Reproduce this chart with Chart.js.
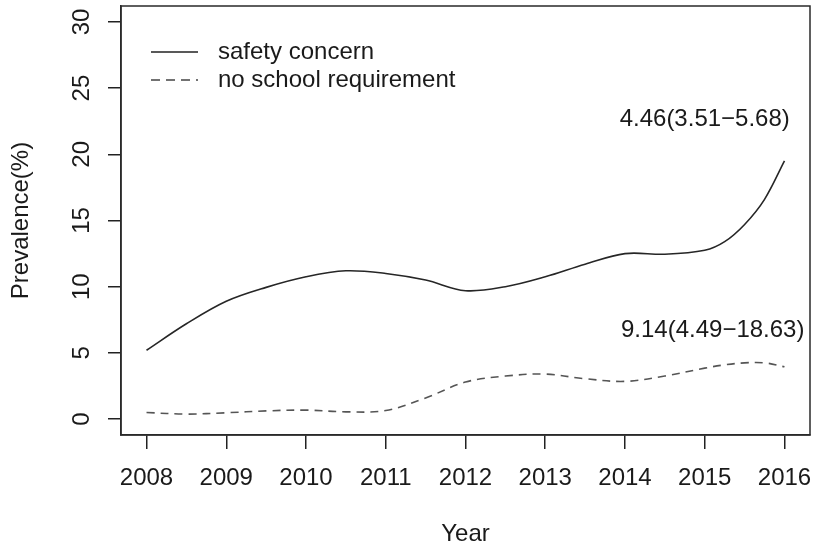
<!DOCTYPE html>
<html>
<head>
<meta charset="utf-8">
<script src="https://cdn.jsdelivr.net/npm/chart.js@4/dist/chart.umd.min.js"></script>
<style>
  html, body { margin: 0; padding: 0; background: #fff; }
  #wrap { width: 815px; height: 552px; position: relative; }
</style>
</head>
<body>
<div id="wrap"><canvas id="trendChart"></canvas></div>
<script>
// smoothed prevalence curves
const years = [2008, 2008.5, 2009, 2009.5, 2010, 2010.5, 2011, 2011.5, 2012, 2012.5, 2013, 2013.5, 2014, 2014.5, 2015, 2015.25, 2015.5, 2015.75, 2016];
const safetyConcern = [5.2, 7.2, 8.9, 9.95, 10.75, 11.2, 11.0, 10.5, 9.7, 10.0, 10.75, 11.7, 12.5, 12.45, 12.75, 13.4, 14.7, 16.6, 19.5];
const noSchoolReq = [0.5, 0.38, 0.48, 0.62, 0.68, 0.55, 0.65, 1.6, 2.8, 3.25, 3.4, 3.05, 2.85, 3.25, 3.85, 4.1, 4.25, 4.25, 3.95];

const seriesNames = ['safety concern', 'no school requirement'];
const xTicks = [2008, 2009, 2010, 2011, 2012, 2013, 2014, 2015, 2016];
const yTicks = [0, 5, 10, 15, 20, 25, 30];
const annotations = ['4.46(3.51\u22125.68)', '9.14(4.49\u221218.63)'];

const FONT = "'Liberation Sans', Arial, sans-serif";
const INK = '#1a1a1a';

function toPoints(xs, ys) {
  return xs.map((x, i) => ({ x, y: ys[i] }));
}

// R-style box, inset legend and the odds ratio labels
const rFrame = {
  id: 'rFrame',
  afterDraw(chart) {
    const { ctx, chartArea: a, scales: { x, y } } = chart;
    ctx.save();
    ctx.strokeStyle = '#2a2a2a';
    ctx.lineWidth = 1.5;
    ctx.strokeRect(a.left, a.top, a.right - a.left, a.bottom - a.top);

    // legend
    const rows = [
      { y: 52, dash: [], color: '#222' },
      { y: 80, dash: [9, 6], color: '#444' }
    ];
    ctx.font = `24px ${FONT}`;
    ctx.textBaseline = 'middle';
    ctx.textAlign = 'left';
    rows.forEach((r, i) => {
      ctx.beginPath();
      ctx.setLineDash(r.dash);
      ctx.strokeStyle = r.color;
      ctx.lineWidth = 1.5;
      ctx.moveTo(151, r.y);
      ctx.lineTo(198, r.y);
      ctx.stroke();
      ctx.fillStyle = INK;
      ctx.fillText(seriesNames[i], 218, r.y);
    });
    ctx.setLineDash([]);

    // annotations near the last year
    ctx.textAlign = 'center';
    ctx.fillText(annotations[0], x.getPixelForValue(2015.0), y.getPixelForValue(22.6));
    ctx.fillText(annotations[1], x.getPixelForValue(2015.1), y.getPixelForValue(6.7));
    ctx.restore();
  }
};

new Chart(document.getElementById('trendChart'), {
  type: 'line',
  data: {
    datasets: [
      {
        label: seriesNames[0],
        data: toPoints(years, safetyConcern),
        borderColor: '#262626',
        borderWidth: 1.6,
        pointRadius: 0,
        tension: 0.35,
        fill: false
      },
      {
        label: seriesNames[1],
        data: toPoints(years, noSchoolReq),
        borderColor: '#555',
        borderWidth: 1.6,
        borderDash: [8, 6],
        pointRadius: 0,
        tension: 0.35,
        fill: false
      }
    ]
  },
  options: {
    responsive: true,
    maintainAspectRatio: false,
    animation: false,
    layout: { padding: { left: 0, right: 5, top: 6, bottom: 0 } },
    plugins: { legend: { display: false }, tooltip: { enabled: false } },
    scales: {
      x: {
        type: 'linear',
        min: 2007.68,
        max: 2016.32,
        afterBuildTicks: s => { s.ticks = xTicks.map(v => ({ value: v })); },
        afterFit: s => { s.height = 117; s.paddingLeft = 0; s.paddingRight = 0; },
        grid: { drawOnChartArea: false, drawTicks: true, tickLength: 14, color: '#222', lineWidth: 1.5 },
        border: { display: true, color: '#2a2a2a', width: 1.5 },
        ticks: {
          autoSkip: false, maxRotation: 0, minRotation: 0, padding: 15,
          color: INK, font: { family: FONT, size: 24 },
          callback: v => String(v)
        },
        title: {
          display: true, text: 'Year', color: INK,
          font: { family: FONT, size: 24 }, padding: { top: 0, bottom: 3.6 }
        }
      },
      y: {
        min: -1.2,
        max: 31.2,
        afterBuildTicks: s => { s.ticks = yTicks.map(v => ({ value: v })); },
        afterFit: s => { s.width = 121; s.paddingTop = 0; s.paddingBottom = 0; },
        grid: { drawOnChartArea: false, drawTicks: true, tickLength: 13, color: '#222', lineWidth: 1.5 },
        border: { display: true, color: '#2a2a2a', width: 1.5 },
        ticks: {
          minRotation: 90, maxRotation: 90, crossAlign: 'center', padding: 12,
          color: INK, font: { family: FONT, size: 24 },
          callback: v => String(v)
        },
        title: {
          display: true, text: 'Prevalence(%)', color: INK,
          font: { family: FONT, size: 24 }, padding: { top: 6.6, bottom: 0 }
        }
      }
    }
  },
  plugins: [rFrame]
});
</script>
</body>
</html>
